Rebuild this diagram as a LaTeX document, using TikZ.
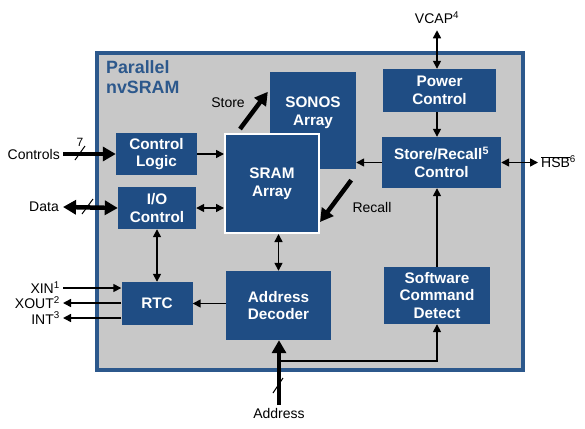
\documentclass[tikz,border=0pt]{standalone}
\usepackage{fontspec}
\setmainfont{Liberation Sans}
\usetikzlibrary{arrows.meta,calc}
\definecolor{blkblue}{RGB}{31,77,132}
\definecolor{rimblue}{RGB}{44,88,140}
\definecolor{bggray}{RGB}{200,200,200}

\begin{document}
\begin{tikzpicture}[x=1pt, y=-1pt,
	blk/.style={fill=blkblue, text=white, align=center, inner sep=0pt,
		font=\fontsize{15.3}{17.7}\selectfont\bfseries},
	lbl/.style={font=\fontsize{14}{16}\selectfont, inner sep=0pt},
	arr/.style={line width=1.5pt, -{Triangle[length=8pt,width=8pt]}},
	dblarr/.style={line width=1.5pt,
		{Triangle[length=8pt,width=8pt]}-{Triangle[length=8pt,width=8pt]}},
	bus/.style={line width=4.5pt, -{Triangle[length=13pt,width=14pt]}},
	dblbus/.style={line width=4.5pt,
		{Triangle[length=13pt,width=14pt]}-{Triangle[length=13pt,width=14pt]}}
]
\useasboundingbox (0,0) rectangle (585,428);

% chip outline
\draw[rimblue, line width=3.5pt, fill=bggray] (97,53) rectangle (523,370);
\node[anchor=north west, align=left, text=rimblue, inner sep=0pt,
	font=\fontsize{17.8}{20}\selectfont\bfseries] (title) at (106,60)
	{Parallel\\nvSRAM};

% blocks
\node[blk, minimum width=86, minimum height=97] (sonos) at (313,120.5) {};
\node[blk, fill=none] (sonostxt) at (313,113) {SONOS\\Array};
\node[blk, draw=white, line width=2pt, minimum width=94, minimum height=99]
	(sram) at (272,183.5) {SRAM\\Array};
\node[blk, minimum width=81, minimum height=42] (ctrl) at (156.5,154) {Control\\Logic};
\node[blk, minimum width=78, minimum height=42] (io) at (157,208) {I/O\\Control};
\node[blk, minimum width=71, minimum height=43] (rtc) at (157,303.5) {RTC};
\node[blk, minimum width=105, minimum height=69] (addr) at (278.5,305.5) {Address\\Decoder};
\node[blk, minimum width=113, minimum height=43] (pwr) at (439.5,90.5) {Power\\Control};
\node[blk, minimum width=119, minimum height=51] (sr) at (441.5,162.5)
	{Store/Recall\textsuperscript{5}\\Control};
\node[blk, minimum width=106, minimum height=57] (swc) at (437,295.5)
	{Software\\Command\\Detect};

% outside pins
\node[lbl] (vcap) at (437,18) {VCAP\textsuperscript{4}};
\node[lbl, anchor=west] (hsb) at (541,162) {$\overline{\mbox{HSB}}$\textsuperscript{6}};
\node[lbl, anchor=east] (ctrls) at (60,154) {Controls};
\node[lbl, font=\fontsize{12}{14}\selectfont] (seven) at (80,142) {7};
\node[lbl, anchor=east] (data) at (59,207) {Data};
\node[lbl, anchor=east] (xin) at (60,288) {XIN\textsuperscript{1}};
\node[lbl, anchor=east] (xout) at (60,303) {XOUT\textsuperscript{2}};
\node[lbl, anchor=east] (int) at (60,318) {INT\textsuperscript{3}};
\node[lbl] (adrs) at (279,413) {Address};
\node[lbl] (store) at (228,103) {Store};
\node[lbl] (recall) at (372,207) {Recall};
\coordinate (tap) at (279,361);

% connections
\draw[dblarr] ($(vcap.south)+(0,6)$) -- (vcap.south |- pwr.north);
\draw[arr] (pwr.south -| vcap) -- (vcap |- sr.north);
\draw[arr] (sr.west) -- (sr.west -| sonos.east);
\draw[dblarr] (sr.east) -- ($(hsb.west |- sr.east)+(-3,0)$);
\draw[arr] (vcap |- swc.north) -- (vcap |- sr.south);
\draw[arr] (tap) -| (vcap |- swc.south);
\draw[bus] ($(adrs.north)+(0,-3)$) -- (adrs.north |- addr.south);
\draw[line width=1pt] (273,393) -- (283,378);
\draw[arr] (addr.west |- rtc) -- (rtc.east);
\draw[dblarr] (addr.north) -- (addr.north |- sram.south);
\draw[dblarr] (io.south) -- (rtc.north);
\draw[dblarr] (io.east) -- (io.east -| sram.west);
\draw[arr] (ctrl.east) -- (ctrl.east -| sram.west);
\draw[bus] ($(ctrls.east)+(3,0)$) -- (ctrl.west);
\draw[line width=1pt] (75,160) -- (85,146);
\draw[dblbus] ($(data.east)+(4,0)$) -- (io.west);
\draw[line width=1pt] (82,214) -- (93,199);
\draw[arr] ($(xin.east)+(3,0)$) -- (xin.east -| rtc.west);
\draw[arr] (rtc.west |- xout) -- ($(xout.east)+(3,0)$);
\draw[arr] (rtc.west |- int) -- ($(int.east)+(3,0)$);
\draw[bus] ($(sram.north west)+(16,-4)$) -- ($(sonos.north west)+(-2,20)$);
\draw[bus] ($(sonos.south east)+(-5,11)$) -- ($(sram.south east)+(0,-12)$);
\end{tikzpicture}
\end{document}
